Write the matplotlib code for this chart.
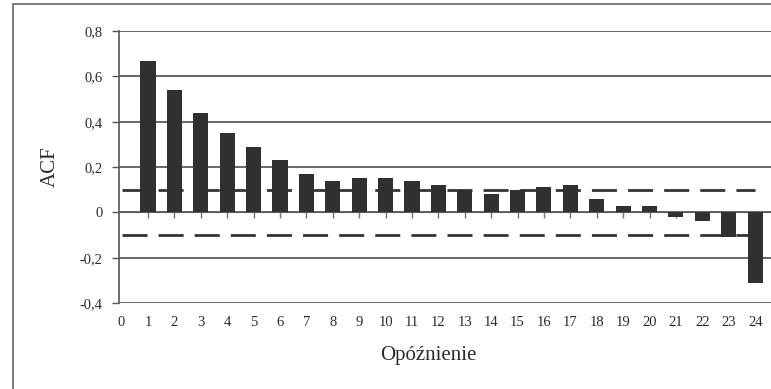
import matplotlib.pyplot as plt
from matplotlib.patches import Rectangle

# ACF values
lags = list(range(1, 25))
acf = [0.67, 0.54, 0.44, 0.35, 0.29, 0.23, 0.17, 0.14, 0.15, 0.15, 0.14, 0.12,
       0.10, 0.08, 0.10, 0.11, 0.12, 0.06, 0.03, 0.03, -0.02, -0.04, -0.11, -0.31]
band_lags = list(range(0, 25))
upper_band = [0.1] * 25
lower_band = [-0.1] * 25
tick_labels = [str(i) for i in range(0, 25)]
y_ticks = [-0.4, -0.2, 0, 0.2, 0.4, 0.6, 0.8]
y_labels = ['-0,4', '-0,2', '0', '0,2', '0,4', '0,6', '0,8']

plt.rcParams['font.family'] = ['Liberation Serif', 'DejaVu Serif']

fig = plt.figure(figsize=(7.71, 3.89), dpi=100)
ax = fig.add_axes([0.1543, 0.221, 0.8457, 0.699])

# gridlines
for y in y_ticks:
    ax.axhline(y, color='#5a5a5a', lw=1.3, zorder=1)

# confidence bands
ax.plot(band_lags, upper_band, color='#333333', lw=2, dashes=(9, 4), zorder=2)
ax.plot(band_lags, lower_band, color='#333333', lw=2, dashes=(9, 4), zorder=2)

# bars
ax.bar(lags, acf, width=0.57, color='#303030', zorder=3)

ax.set_xlim(-0.1, 24.6)
ax.set_ylim(-0.4, 0.8)

ax.set_yticks(y_ticks)
ax.set_yticklabels(y_labels, fontsize=10.5, color='#2a2a2a')
ax.tick_params(axis='y', direction='out', length=5, width=1, color='#555555', pad=7)

# category axis crosses at zero: ticks on the zero line, labels at bottom
ax.spines['bottom'].set_position(('data', 0))
ax.spines['bottom'].set_color('#5a5a5a')
ax.set_xticks(lags)
ax.tick_params(axis='x', direction='out', length=4, width=1, color='#777777', labelbottom=False)
sec = ax.secondary_xaxis(0.0)
sec.set_xticks(range(0, 25))
sec.set_xticklabels(tick_labels, fontsize=10.5, color='#2a2a2a')
sec.tick_params(length=0, pad=9)
sec.spines['bottom'].set_visible(False)

for s in ['top', 'right']:
    ax.spines[s].set_visible(False)
ax.spines['left'].set_color('#555555')
ax.spines['left'].set_linewidth(1.2)

ax.set_ylabel('ACF', fontsize=15, color='#2a2a2a', labelpad=14)
fig.text(0.555, 0.085, 'Opóźnienie', ha='center', va='center', fontsize=15, color='#2a2a2a')

# outer chart-area border
fig.patches.append(Rectangle((0.017, -0.1), 1.2, 1.09, transform=fig.transFigure,
                             fill=False, edgecolor='#666666', lw=1.2))

fig.savefig('out.png', dpi=100)
